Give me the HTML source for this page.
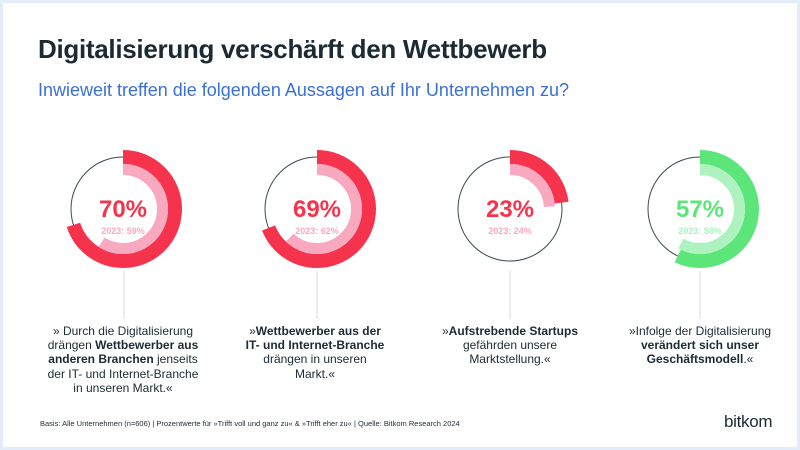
<!DOCTYPE html>
<html><head><meta charset="utf-8"><style>
body{margin:0;width:800px;height:450px;overflow:hidden;background:#fff;font-family:"Liberation Sans",sans-serif}
.frame{position:absolute;left:0;top:0;width:794px;height:444px;border:3px solid #e3ecfa;box-sizing:content-box}
h1{position:absolute;left:38px;top:34px;margin:0;font-size:26px;font-weight:bold;color:#1c2a33;letter-spacing:-0.3px}
h2{position:absolute;left:38px;top:80px;margin:0;font-size:18px;font-weight:normal;color:#3b6fd9}
.d{position:absolute;top:324px;width:200px;text-align:center;font-size:12px;line-height:14.2px;color:#1c2a33;white-space:nowrap}
.f{position:absolute;left:40px;top:419px;font-size:7.5px;color:#1c2a33}
.logo{position:absolute;left:724px;top:412px;font-size:17px;color:#1c2a33;letter-spacing:-0.3px}
</style></head><body>
<div class="frame"></div>
<h1>Digitalisierung verschärft den Wettbewerb</h1>
<h2>Inwieweit treffen die folgenden Aussagen auf Ihr Unternehmen zu?</h2>
<svg width="800" height="450" style="position:absolute;left:0;top:0" font-family="Liberation Sans,sans-serif">
<g transform="translate(123,209)">
<circle r="52" fill="none" stroke="#3a4a52" stroke-width="1"/>
<circle r="52" fill="none" stroke="#f5334c" stroke-width="14" stroke-dasharray="228.7 400" transform="rotate(-90)"/>
<circle r="39.5" fill="none" stroke="#f8a9c0" stroke-width="11" stroke-dasharray="146.4 400" transform="rotate(-90)"/>
<text y="8" text-anchor="middle" font-size="24" font-weight="bold" fill="#f5334c">70%</text>
<text y="25" text-anchor="middle" font-size="9" font-weight="bold" fill="#f8a9c0">2023: 59%</text>
<line x1="1" y1="62" x2="1" y2="110" stroke="#d6dbde"/>
</g>
<g transform="translate(317,209)">
<circle r="52" fill="none" stroke="#3a4a52" stroke-width="1"/>
<circle r="52" fill="none" stroke="#f5334c" stroke-width="14" stroke-dasharray="225.4 400" transform="rotate(-90)"/>
<circle r="39.5" fill="none" stroke="#f8a9c0" stroke-width="11" stroke-dasharray="153.9 400" transform="rotate(-90)"/>
<text y="8" text-anchor="middle" font-size="24" font-weight="bold" fill="#f5334c">69%</text>
<text y="25" text-anchor="middle" font-size="9" font-weight="bold" fill="#f8a9c0">2023: 62%</text>
<line x1="0" y1="62" x2="0" y2="110" stroke="#d6dbde"/>
</g>
<g transform="translate(510,209)">
<circle r="52" fill="none" stroke="#3a4a52" stroke-width="1"/>
<circle r="52" fill="none" stroke="#f5334c" stroke-width="14" stroke-dasharray="75.1 400" transform="rotate(-90)"/>
<circle r="39.5" fill="none" stroke="#f8a9c0" stroke-width="11" stroke-dasharray="59.6 400" transform="rotate(-90)"/>
<text y="8" text-anchor="middle" font-size="24" font-weight="bold" fill="#f5334c">23%</text>
<text y="25" text-anchor="middle" font-size="9" font-weight="bold" fill="#f8a9c0">2023: 24%</text>
<line x1="0" y1="62" x2="0" y2="110" stroke="#d6dbde"/>
</g>
<g transform="translate(700,209)">
<circle r="52" fill="none" stroke="#3a4a52" stroke-width="1"/>
<circle r="52" fill="none" stroke="#5ce67a" stroke-width="14" stroke-dasharray="186.2 400" transform="rotate(-90)"/>
<circle r="39.5" fill="none" stroke="#aef2c0" stroke-width="11" stroke-dasharray="143.9 400" transform="rotate(-90)"/>
<text y="8" text-anchor="middle" font-size="24" font-weight="bold" fill="#5ce67a">57%</text>
<text y="25" text-anchor="middle" font-size="9" font-weight="bold" fill="#aef2c0">2023: 58%</text>
<line x1="0" y1="62" x2="0" y2="110" stroke="#d6dbde"/>
</g>
</svg>
<div class="d" style="left:23px">» Durch die Digitalisierung<br>drängen <b>Wettbewerber aus</b><br><b>anderen Branchen</b> jenseits<br>der IT- und Internet-Branche<br>in unseren Markt.«</div>
<div class="d" style="left:215px">»<b>Wettbewerber aus der</b><br><b>IT- und Internet-Branche</b><br>drängen in unseren<br>Markt.«</div>
<div class="d" style="left:410px">»<b>Aufstrebende Startups</b><br>gefährden unsere<br>Marktstellung.«</div>
<div class="d" style="left:600px">»Infolge der Digitalisierung<br><b>verändert sich unser</b><br><b>Geschäftsmodell</b>.«</div>
<div class="f">Basis: Alle Unternehmen (n=606) | Prozentwerte für »Trifft voll und ganz zu« &amp; »Trifft eher zu« | Quelle: Bitkom Research 2024</div>
<div class="logo">bitkom</div>
</body></html>
